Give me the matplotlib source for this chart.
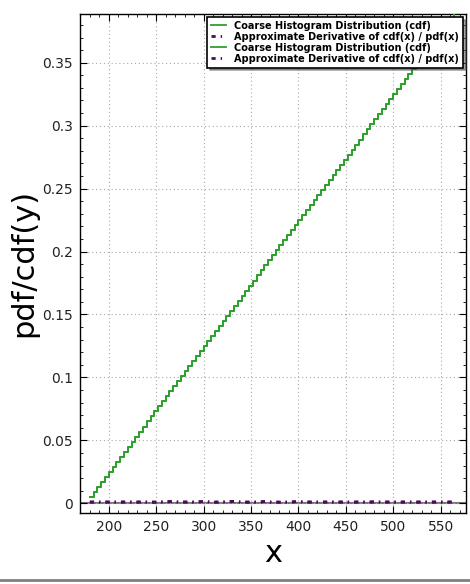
import matplotlib
matplotlib.use("Agg")
import matplotlib.pyplot as plt
from matplotlib.ticker import AutoMinorLocator, FuncFormatter, MultipleLocator
from matplotlib.lines import Line2D

# CDF staircase (histogram bin edges and cumulative values)
cdf_x = [180, 184, 188, 192, 196, 200, 204, 208, 212, 216, 220, 224, 228, 232,
         236, 240, 244, 248, 252, 256, 260, 264, 268, 272, 276, 280, 284, 288,
         292, 296, 300, 304, 308, 312, 316, 320, 324, 328, 332, 336, 340, 344,
         348, 352, 356, 360, 364, 368, 372, 376, 380, 384, 388, 392, 396, 400,
         404, 408, 412, 416, 420, 424, 428, 432, 436, 440, 444, 448, 452, 456,
         460, 464, 468, 472, 476, 480, 484, 488, 492, 496, 500, 504, 508, 512,
         516, 520, 524, 528, 532, 536, 540, 544, 548, 552, 556, 560, 564]
cdf_y = [0.005, 0.009, 0.013, 0.017, 0.021, 0.025, 0.029, 0.033, 0.037, 0.041,
         0.045, 0.049, 0.053, 0.057, 0.061, 0.065, 0.069, 0.073, 0.077, 0.081,
         0.085, 0.089, 0.093, 0.097, 0.101, 0.105, 0.109, 0.113, 0.117, 0.121,
         0.125, 0.129, 0.133, 0.137, 0.141, 0.145, 0.149, 0.153, 0.157, 0.161,
         0.165, 0.169, 0.173, 0.177, 0.181, 0.185, 0.189, 0.193, 0.197, 0.201,
         0.205, 0.209, 0.213, 0.217, 0.221, 0.225, 0.229, 0.233, 0.237, 0.241,
         0.245, 0.249, 0.253, 0.257, 0.261, 0.265, 0.269, 0.273, 0.277, 0.281,
         0.285, 0.289, 0.293, 0.297, 0.301, 0.305, 0.309, 0.313, 0.317, 0.321,
         0.325, 0.329, 0.333, 0.337, 0.341, 0.345, 0.349, 0.353, 0.357, 0.361,
         0.365, 0.369, 0.373, 0.377, 0.381, 0.385, 0.389]

# Approximate derivative (pdf)
pdf_x = [180, 190, 200, 210, 220, 230, 240, 250, 260, 265, 270, 280, 290, 300,
         310, 320, 330, 340, 350, 360, 365, 370, 380, 390, 400, 410, 420, 430,
         440, 450, 460, 470, 480, 490, 500, 510, 520, 530, 540, 550, 560, 565]
pdf_y = [0.0010, 0.0010, 0.0010, 0.0010, 0.0010, 0.0010, 0.0010, 0.0009, 0.0012,
         0.0014, 0.0011, 0.0010, 0.0010, 0.0014, 0.0009, 0.0010, 0.0015, 0.0010,
         0.0009, 0.0011, 0.0014, 0.0010, 0.0009, 0.0010, 0.0013, 0.0010, 0.0010,
         0.0010, 0.0010, 0.0010, 0.0010, 0.0010, 0.0011, 0.0010, 0.0010, 0.0010,
         0.0010, 0.0010, 0.0010, 0.0010, 0.0010, 0.0010]

label_cdf = "Coarse Histogram Distribution (cdf)"
label_pdf = "Approximate Derivative of cdf(x) / pdf(x)"

green = "#2ca02c"
purple = "#4b0a5a"

fig = plt.figure(figsize=(4.70, 5.84), dpi=100)
ax = fig.add_axes([0.170, 0.122, 0.821, 0.854])

ax.axhline(0, color="#777777", lw=1.5, zorder=1)
for _ in range(2):
    ax.plot(cdf_x, cdf_y, color=green, lw=1.3, drawstyle="steps-post",
            label=label_cdf, zorder=3)
    ax.plot(pdf_x, pdf_y, color=purple, lw=2,
            linestyle=(0, (1.5, 1.8, 0.5, 1.8)), label=label_pdf, zorder=3)

ax.set_xlim(169.5, 576.5)
ax.set_ylim(-0.0075, 0.3887)
ax.xaxis.set_major_locator(MultipleLocator(50))
ax.yaxis.set_major_locator(MultipleLocator(0.05))
ax.xaxis.set_minor_locator(AutoMinorLocator(5))
ax.yaxis.set_minor_locator(AutoMinorLocator(5))
ax.yaxis.set_major_formatter(FuncFormatter(lambda v, p: "%g" % round(v, 4)))
ax.xaxis.set_major_formatter(FuncFormatter(lambda v, p: "%g" % v))

ax.tick_params(which="both", direction="in", top=True, right=True,
               labelsize=10, colors="black")
ax.tick_params(which="major", length=5, width=0.8)
ax.tick_params(which="minor", length=2.5, width=0.6)
ax.tick_params(axis="x", pad=5)
ax.tick_params(axis="y", pad=5)
for lbl in ax.get_xticklabels() + ax.get_yticklabels():
    lbl.set_color("#222222")

ax.grid(True, which="major", color="#a8a8a8", linestyle=(0, (1, 2.5)), lw=0.8)
for s in ax.spines.values():
    s.set_linewidth(1.0)
    s.set_color("black")

ax.set_xlabel("x", fontsize=22, labelpad=4)
ax.set_ylabel("pdf/cdf(y)", fontsize=22, labelpad=3)

leg = ax.legend(loc="upper right", prop={"weight": "bold", "size": 7},
                frameon=True, fancybox=False, shadow=True,
                borderaxespad=0.3, labelspacing=0.1, handlelength=1.6,
                handletextpad=0.8, borderpad=0.4)
leg.get_frame().set_edgecolor("black")
leg.get_frame().set_linewidth(1.2)

fig.add_artist(Line2D([0, 1], [1 - 580 / 584, 1 - 580 / 584],
                      transform=fig.transFigure, color="#808080", lw=2))

fig.savefig("out.png", dpi=100)
